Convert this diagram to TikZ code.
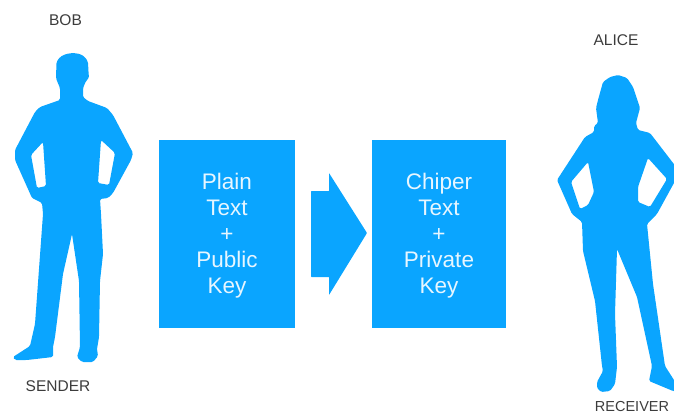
\documentclass[tikz,border=0pt]{standalone}
\usepackage{fontspec}
\setmainfont{Liberation Sans}
\definecolor{keyblue}{RGB}{10, 165, 255}
\definecolor{labelgray}{RGB}{60, 60, 60}
\tikzset{
    person/.style={fill=keyblue, even odd rule, rounded corners=1.5pt},
    keybox/.style={fill=keyblue, minimum height=188pt, inner sep=0pt, text=white!90!keyblue,
        align=center, font=\fontsize{22.5}{26}\selectfont},
    namelabel/.style={text=labelgray, inner sep=0pt, font=\fontsize{15.5}{15.5}\selectfont}
}

\begin{document}
\begin{tikzpicture}[x=1pt, y=-1pt]
            \useasboundingbox (0,0) rectangle (674,414);
            \clip (0,0) rectangle (674,414);

            % Bob
            \fill[person] (73,53) -- (80,54) -- (85,57) -- (88,62) -- (88.5,72) -- (89,78) -- (86,81)
                -- (83,88) -- (83,97) -- (88,101) -- (107,108)
                -- (113,115) -- (133,153) -- (131,160) -- (113,193) -- (108,198) -- (100,199)
                -- (101,214) -- (103,254) -- (100,281) -- (99,337) -- (97,349) -- (98,356)
                -- (93,362) -- (82,362) -- (77,357) -- (80,347) -- (79,281) -- (72,234)
                -- (63,274) -- (55,337) -- (53,347) -- (53,357) -- (27,360) -- (15,360)
                -- (13,357) -- (30,346) -- (35,324) -- (43,214) -- (42,203) -- (32,198)
                -- (15,160) -- (15,150) -- (35,112) -- (40,107) -- (60,100) -- (60,88)
                -- (57,81) -- (56,78) -- (56.5,62) -- (60,57) -- (66,54) -- cycle
                (43,142) -- (31,155) -- (37,188) -- (46,186) -- cycle
                (101,140) -- (115,153) -- (109,185) -- (98,183) -- cycle;
            \node[namelabel] (bob) at (65.5,20) {BOB};
            \node[namelabel] (sender) at (58,386) {SENDER};

            % Plain text box
            \node[keybox, minimum width=136pt] (plain) at (227,234) {\rule{0pt}{19.6pt}Plain\\Text\\+\\Public\\Key};

            % Arrow
            \fill[keyblue, rounded corners=0.5pt] (311,191) -- (329,191) -- (329,173) -- (367,233)
                -- (329,295) -- (329,277) -- (311,277) -- cycle;

            % Chiper text box
            \node[keybox, minimum width=134pt] (chiper) at (439,234) {\rule{0pt}{19.6pt}Chiper\\Text\\+\\Private\\Key};

            % Alice
            \fill[person] (618,75) -- (627,78) -- (633,87) -- (640,108) -- (636,123) -- (638,130)
                -- (650,133) -- (680,172) -- (657,214) -- (647,224) -- (653,284) -- (665,366)
                -- (674,380) -- (680,392) -- (673,391) -- (649,381) -- (652,366) -- (637,297)
                -- (617,249) -- (615,314) -- (617,367) -- (615,384) -- (610,391) -- (601,392) -- (597,388)
                -- (597,382) -- (603,371) -- (602,366) -- (595,301) -- (583,251) -- (582,222)
                -- (572,214) -- (557,180) -- (585,137) -- (594,132) -- (594,126) -- (598,123)
                -- (596,108) -- (598,100) -- (603,82) -- (610,77) -- cycle
                (588,162) -- (571,182) -- (580,209) -- (588,205) -- (594,192) -- cycle
                (648,158) -- (667,179) -- (650,207) -- (638,202) -- (638,187) -- cycle;
            \node[namelabel] (alice) at (616,40) {ALICE};
            \node[namelabel, font=\fontsize{14.5}{14.5}\selectfont] (receiver) at (632,407) {RECEIVER};
\end{tikzpicture}
\end{document}
